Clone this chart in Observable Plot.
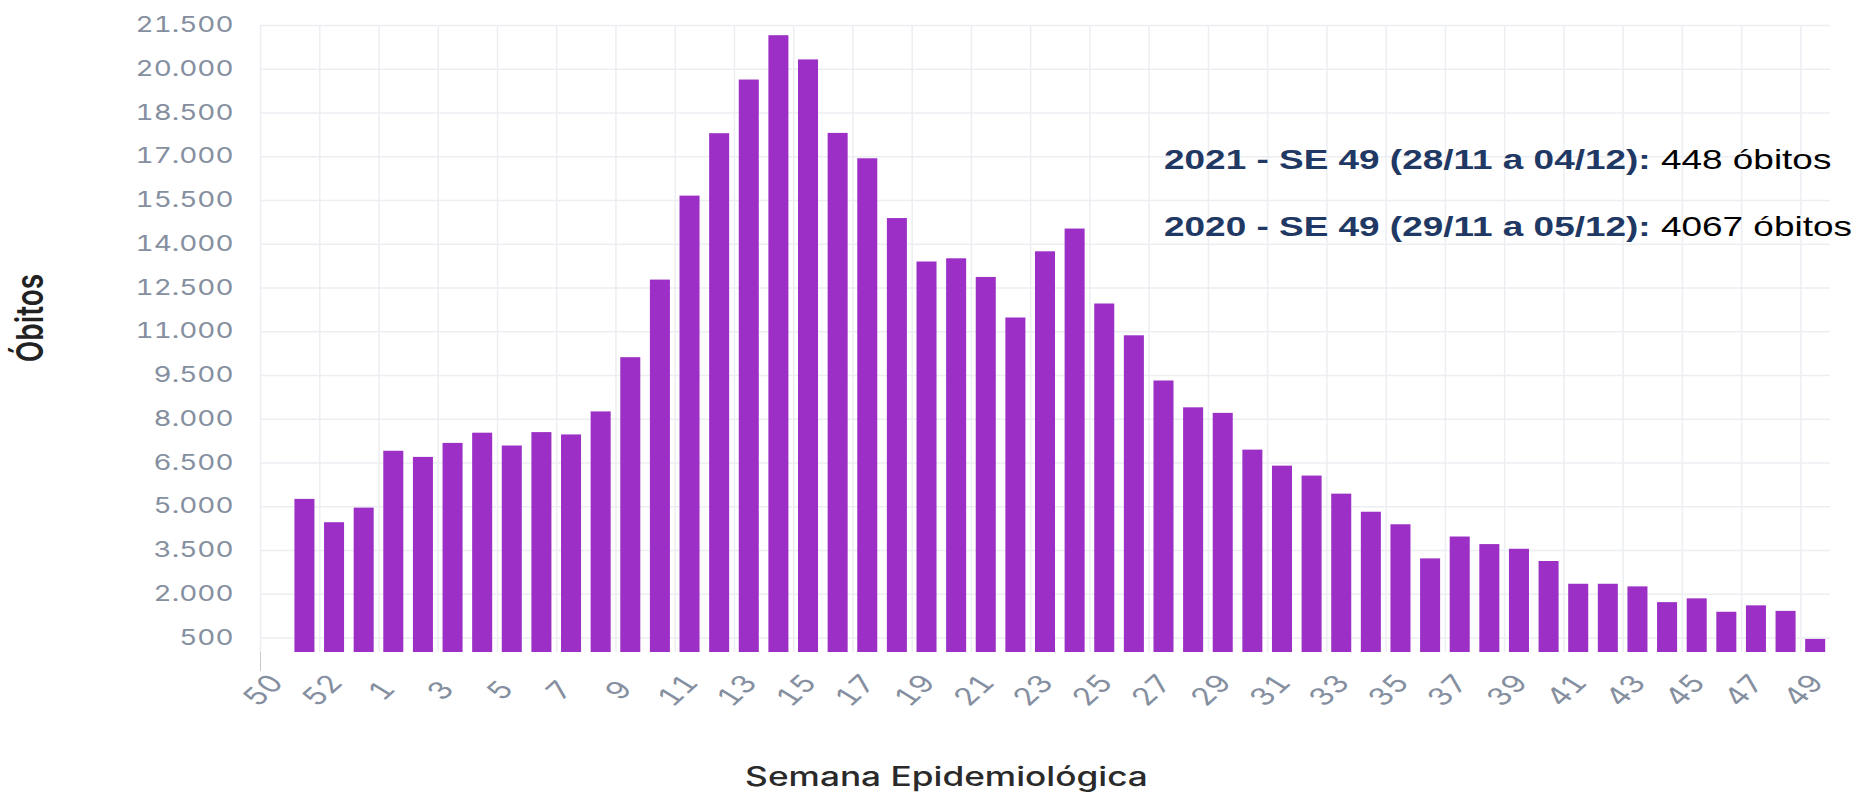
<!DOCTYPE html>
<html>
<head>
<meta charset="utf-8">
<script src="https://cdn.jsdelivr.net/npm/d3@7"></script>
<script src="https://cdn.jsdelivr.net/npm/@observablehq/plot@0.6"></script>
<style>
  html, body { margin: 0; padding: 0; background: #ffffff; }
  #chart svg { display: block; }
</style>
</head>
<body>
<div id="chart"></div>
<script>
// Epidemiological weeks (SE 50/2020 to SE 49/2021)
const weeks = ["50","51","52","53","1","2","3","4","5","6","7","8","9","10","11","12","13","14","15","16","17","18","19","20","21","22","23","24","25","26","27","28","29","30","31","32","33","34","35","36","37","38","39","40","41","42","43","44","45","46","47","48","49"];
// Deaths per week (SE 50 has no bar)
const deaths = [null,5250,4450,4950,6900,6690,7170,7520,7080,7540,7460,8250,10110,12770,15650,17790,19630,21150,20320,17800,16930,14880,13390,13500,12860,11470,13740,14520,11950,10860,9310,8390,8200,6940,6390,6050,5430,4810,4380,3210,3960,3700,3540,3120,2340,2340,2250,1710,1840,1380,1600,1410,448];
// Y tick values
const yTicks = [500,2000,3500,5000,6500,8000,9500,11000,12500,14000,15500,17000,18500,20000,21500];
// Annotation lines
const annBold = ["2021 - SE 49 (28/11 a 04/12):", "2020 - SE 49 (29/11 a 05/12):"];
const annNormal = [" 448 óbitos", " 4067 óbitos"];
const yLabel = "Óbitos";
const xLabel = "Semana Epidemiológica";

const data = weeks.map((w, i) => ({i, week: w, v: deaths[i]})).filter(d => d.v != null);
const xTicks = weeks.map((w, i) => i).filter(i => i % 2 === 0);
const fmt = d => d3.format(",")(d).replace(/,/g, ".");

const tickColor = "#858fa0";
const gridColor = "#eceef2";

const chart = Plot.plot({
  width: 1870,
  height: 796,
  marginTop: 25,
  marginBottom: 144,
  marginLeft: 260,
  marginRight: 40,
  style: {fontFamily: "Inter, 'Noto Sans', sans-serif", background: "#ffffff"},
  x: {type: "linear", domain: [0, 53], axis: null},
  y: {domain: [0, 21500], axis: null},
  marks: [
    Plot.gridY(yTicks, {stroke: gridColor, strokeOpacity: 1, strokeWidth: 1.5}),
    Plot.gridX(xTicks, {stroke: gridColor, strokeOpacity: 1, strokeWidth: 1.5}),
    Plot.rectY(data, {x1: "i", x2: d => d.i + 1, y: "v", fill: "#9c2fc5", insetLeft: 4.8, insetRight: 4.8}),
    Plot.axisY(yTicks, {tickSize: 0, tickPadding: 27, tickFormat: fmt, fontSize: 21, fill: tickColor, label: null}),
    Plot.axisX(xTicks, {tickSize: 0, tickPadding: 38, dx: 3, tickRotate: -50, textAnchor: "middle", lineAnchor: "middle",
      tickFormat: i => weeks[i], fontSize: 24.5, fill: tickColor, label: null}),
    Plot.axisX([0], {tickSize: 19, stroke: "#c4c8cf", tickFormat: () => "", label: null}),
    Plot.text([yLabel], {text: d => d, frameAnchor: "left", dx: -229.5, dy: -21, rotate: -90,
      textAnchor: "middle", lineAnchor: "middle", fontSize: 28, fontWeight: 600, fill: "#222222"}),
    Plot.text([xLabel], {text: d => d, frameAnchor: "bottom", dx: -99, dy: 125,
      textAnchor: "middle", lineAnchor: "middle", fontSize: 26.5, fontWeight: 500, fill: "#2a2a2a"})
  ]
});

// The reference picture is horizontally stretched: stretch the texts the same way.
const S = 1.33;
d3.select(chart).selectAll("text").each(function() {
  const t = this.getAttribute("transform") || "";
  const m = t.match(/^\s*translate\(([^)]*)\)(.*)$/);
  if (m) {
    this.setAttribute("transform", `translate(${m[1]}) scale(${S},1)${m[2]}`);
  } else {
    const x = parseFloat(this.getAttribute("x")) || 0;
    this.setAttribute("transform", `${t} translate(${x},0) scale(${S},1) translate(${-x},0)`);
  }
});

// Annotation (two lines, bold navy + regular black)
const svg = d3.select(chart);
const ann = svg.append("g")
  .attr("font-family", "'Liberation Sans', Arial, sans-serif")
  .attr("font-size", 28)
  .attr("text-anchor", "start");
const baselines = [169, 236];
annBold.forEach((b, k) => {
  const t = ann.append("text")
    .attr("text-anchor", "start")
    .attr("transform", `translate(1164,${baselines[k]}) scale(1.32,1)`)
    .attr("xml:space", "preserve");
  t.append("tspan").attr("font-weight", "bold").attr("fill", "#1f3864").text(b);
  t.append("tspan").attr("fill", "#000000").text(annNormal[k]);
});

document.getElementById("chart").appendChild(chart);
</script>
</body>
</html>
